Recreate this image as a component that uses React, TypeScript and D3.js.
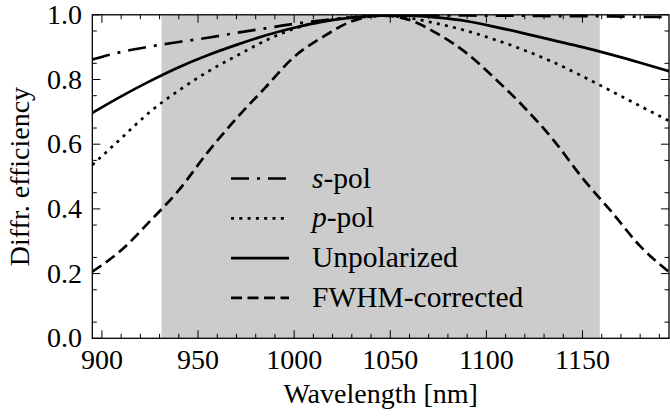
import React from "react";
import * as d3 from "d3";

// Wavelength grid (nm) and diffraction efficiencies per polarization
const wavelengths = [895, 910, 925, 940, 955, 970, 985, 1000, 1015, 1030, 1045, 1060, 1075, 1090, 1105, 1120, 1135, 1150, 1165, 1180, 1195];
const sPol = [0.862, 0.885, 0.902, 0.916, 0.929, 0.944, 0.958, 0.972, 0.983, 0.991, 0.996, 0.998, 0.998, 0.998, 0.997, 0.997, 0.996, 0.996, 0.995, 0.994, 0.993];
const pPol = [0.536, 0.618, 0.700, 0.766, 0.824, 0.873, 0.920, 0.957, 0.980, 0.993, 0.998, 0.990, 0.972, 0.950, 0.922, 0.890, 0.853, 0.810, 0.764, 0.718, 0.672];
const unpolarized = [0.697, 0.748, 0.795, 0.838, 0.875, 0.907, 0.936, 0.960, 0.979, 0.991, 0.997, 0.997, 0.991, 0.980, 0.962, 0.942, 0.921, 0.900, 0.877, 0.852, 0.826];
const fwhmCorrected = [0.206, 0.272, 0.362, 0.458, 0.575, 0.680, 0.775, 0.870, 0.932, 0.980, 0.998, 0.984, 0.940, 0.880, 0.800, 0.712, 0.612, 0.495, 0.392, 0.285, 0.205];

// Shaded wavelength band
const band = [931, 1159];

const xTicks = [900, 950, 1000, 1050, 1100, 1150];
const yTicks = [0, 0.2, 0.4, 0.6, 0.8, 1.0];

const seriesList = [
  { label: "s", suffix: "-pol", italic: true, values: sPol, dash: "18,8,3,8" },
  { label: "p", suffix: "-pol", italic: true, values: pPol, dash: "3,5.3" },
  { label: "Unpolarized", suffix: "", italic: false, values: unpolarized, dash: "" },
  { label: "FWHM-corrected", suffix: "", italic: false, values: fwhmCorrected, dash: "11,5.5" },
];

const W = 670;
const H = 419;
const M = { left: 92.3, right: 669, top: 14.8, bottom: 338.3 };
const textStyle = { fontFamily: "Liberation Serif", fontSize: 28 } as const;
const legendStyle = { fontFamily: "Liberation Serif", fontSize: 29.5 } as const;

export default function App() {
  const x = d3.scaleLinear().domain([895, 1195]).range([M.left, M.right]);
  const y = d3.scaleLinear().domain([0, 1]).range([M.bottom, M.top]);

  const line = d3
    .line<[number, number]>()
    .x((d) => x(d[0]))
    .y((d) => y(d[1]))
    .curve(d3.curveMonotoneX);

  const xMinor = d3.range(900, 1195, 10).filter((v) => v % 50 !== 0);
  const yMinor = d3.range(0.05, 1, 0.1).map((v) => +v.toFixed(2));

  const majorLen = 8;
  const minorLen = 4.5;

  const legendX0 = 231;
  const legendX1 = 289;
  const legendTextX = 312;
  const legendY0 = 178.5;
  const legendStep = 39.8;

  return (
    <svg
      width={W}
      height={H}
      style={{ position: "absolute", left: 0, top: 0, background: "#fff" }}
    >
      <defs>
        <clipPath id="plot-clip">
          <rect x={M.left} y={M.top} width={M.right - M.left} height={M.bottom - M.top} />
        </clipPath>
      </defs>

      {/* shaded band */}
      <rect
        x={x(band[0])}
        y={M.top}
        width={x(band[1]) - x(band[0])}
        height={M.bottom - M.top}
        fill="#cccccc"
      />

      {/* curves */}
      <g clipPath="url(#plot-clip)">
        {seriesList.map((s, i) => (
          <path
            key={i}
            d={line(wavelengths.map((w, j) => [w, s.values[j]] as [number, number])) || ""}
            fill="none"
            stroke="#000"
            strokeWidth={2.7}
            strokeDasharray={s.dash || undefined}
          />
        ))}
      </g>

      {/* legend */}
      {seriesList.map((s, i) => {
        const ly = legendY0 + i * legendStep;
        return (
          <g key={i}>
            <line
              x1={legendX0}
              x2={legendX1}
              y1={ly}
              y2={ly}
              stroke="#000"
              strokeWidth={2.7}
              strokeDasharray={s.dash || undefined}
            />
            <text x={legendTextX} y={ly + 9} style={legendStyle} fill="#000">
              {s.italic ? (
                <>
                  <tspan fontStyle="italic">{s.label}</tspan>
                  <tspan>{s.suffix}</tspan>
                </>
              ) : (
                s.label
              )}
            </text>
          </g>
        );
      })}

      {/* ticks, all four sides, pointing inward */}
      <g stroke="#000" strokeWidth={1}>
        {xTicks.map((t) => (
          <g key={"xt" + t}>
            <line x1={x(t)} x2={x(t)} y1={M.bottom} y2={M.bottom - majorLen} />
            <line x1={x(t)} x2={x(t)} y1={M.top} y2={M.top + majorLen} />
          </g>
        ))}
        {xMinor.map((t) => (
          <g key={"xm" + t}>
            <line x1={x(t)} x2={x(t)} y1={M.bottom} y2={M.bottom - minorLen} />
            <line x1={x(t)} x2={x(t)} y1={M.top} y2={M.top + minorLen} />
          </g>
        ))}
        {yTicks.map((t) => (
          <g key={"yt" + t}>
            <line x1={M.left} x2={M.left + majorLen} y1={y(t)} y2={y(t)} />
            <line x1={M.right} x2={M.right - majorLen} y1={y(t)} y2={y(t)} />
          </g>
        ))}
        {yMinor.map((t) => (
          <g key={"ym" + t}>
            <line x1={M.left} x2={M.left + minorLen} y1={y(t)} y2={y(t)} />
            <line x1={M.right} x2={M.right - minorLen} y1={y(t)} y2={y(t)} />
          </g>
        ))}
      </g>

      {/* frame */}
      <rect
        x={M.left}
        y={M.top}
        width={M.right - M.left}
        height={M.bottom - M.top}
        fill="none"
        stroke="#000"
        strokeWidth={1.3}
      />

      {/* tick labels */}
      {xTicks.map((t) => (
        <text key={"xl" + t} x={x(t)} y={369} textAnchor="middle" style={textStyle} fill="#000">
          {t}
        </text>
      ))}
      {yTicks.map((t) => (
        <text key={"yl" + t} x={82} y={y(t) + 9} textAnchor="end" style={textStyle} fill="#000">
          {t.toFixed(1)}
        </text>
      ))}

      {/* axis titles */}
      <text x={(M.left + M.right) / 2} y={403} textAnchor="middle" style={textStyle} fill="#000">
        Wavelength [nm]
      </text>
      <text
        transform={`translate(29, ${(M.top + M.bottom) / 2}) rotate(-90)`}
        textAnchor="middle"
        style={textStyle}
        fill="#000"
      >
        Diffr. efficiency
      </text>
    </svg>
  );
}
